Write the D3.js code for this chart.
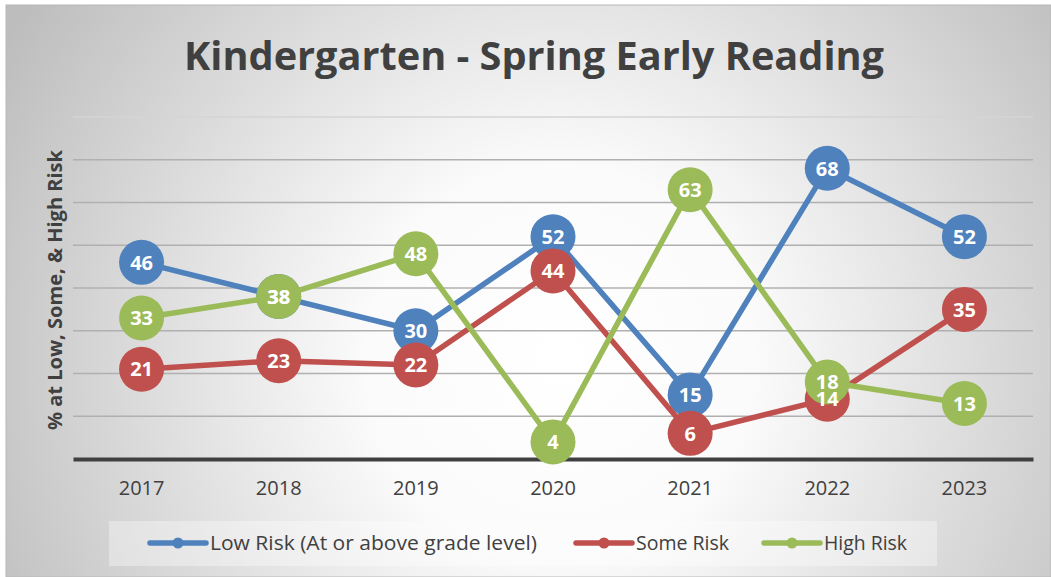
<!DOCTYPE html>
<html>
<head>
<meta charset="utf-8">
<script src="https://cdn.jsdelivr.net/npm/d3@7"></script>
<style>
  body { margin: 0; background: #fff; }
  text { font-family: "Open Sans", "Noto Sans", sans-serif; }
</style>
</head>
<body>
<script>
//chart values
var years = ["2017", "2018", "2019", "2020", "2021", "2022", "2023"];
var lowRisk = [46, 38, 30, 52, 15, 68, 52];
var someRisk = [21, 23, 22, 44, 6, 14, 35];
var highRisk = [33, 38, 48, 4, 63, 18, 13];
var seriesNames = ["Low Risk (At or above grade level)", "Some Risk", "High Risk"];
var yTicks = [0, 10, 20, 30, 40, 50, 60, 70, 80];

window.onload = function(){
  var w = 1051, h = 577;
  var colors = ["#4f81bd", "#c0504d", "#9bbb59"];
  var textColor = "#404040";

  var svg = d3.select("body")
      .append("svg")
      .attr("width", w)
      .attr("height", h);

  //radial background like the office chart area
  var grad = svg.append("defs").append("radialGradient")
      .attr("id", "bg")
      .attr("gradientUnits", "userSpaceOnUse")
      .attr("cx", 560).attr("cy", 360).attr("r", 640);
  grad.append("stop").attr("offset", "0%").attr("stop-color", "#ffffff");
  grad.append("stop").attr("offset", "30%").attr("stop-color", "#fbfbfb");
  grad.append("stop").attr("offset", "100%").attr("stop-color", "#bdbdbd");

  svg.append("rect")
      .attr("x", 6).attr("y", 5)
      .attr("width", w - 6).attr("height", h - 5)
      .style("fill", "url(#bg)")
      .style("stroke", "#b8b8b8")
      .style("stroke-width", 1);

  //scales
  var x = d3.scaleBand()
      .domain(years)
      .range([73, 1033])
      .padding(0);

  var y = d3.scaleLinear()
      .domain([0, 80])
      .range([459, 117]);

  //horizontal gridlines (top one is faint)
  svg.append("g")
      .selectAll("line")
      .data(yTicks.filter(function(d){ return d > 0; }))
      .enter()
      .append("line")
      .attr("x1", 73).attr("x2", 1033)
      .attr("y1", function(d){ return y(d); })
      .attr("y2", function(d){ return y(d); })
      .style("stroke", function(d){ return d === 80 ? "#d4d4d4" : "#b0b0b0"; })
      .style("stroke-width", 1.3);

  //x axis (thick dark baseline, no ticks)
  var xAxis = d3.axisBottom(x).tickSize(0).tickPadding(22);
  var axis = svg.append("g")
      .attr("transform", "translate(0," + y(0) + ")")
      .call(xAxis);
  axis.select(".domain")
      .style("stroke", textColor)
      .style("stroke-width", 4);
  axis.selectAll("text")
      .style("font-size", "20px")
      .style("fill", textColor)
      .style("font-family", "'Open Sans', sans-serif");

  //title
  svg.append("text")
      .attr("x", 534)
      .attr("y", 70)
      .attr("text-anchor", "middle")
      .attr("textLength", 700)
      .attr("lengthAdjust", "spacingAndGlyphs")
      .style("font-size", "40px")
      .style("font-weight", "bold")
      .style("fill", textColor)
      .text("Kindergarten - Spring Early Reading");

  //y axis title
  svg.append("text")
      .attr("transform", "translate(62,290) rotate(-90)")
      .attr("text-anchor", "middle")
      .attr("textLength", 280)
      .attr("lengthAdjust", "spacingAndGlyphs")
      .style("font-size", "19px")
      .style("font-weight", "bold")
      .style("fill", textColor)
      .text("% at Low, Some, & High Risk");

  var series = [lowRisk, someRisk, highRisk];
  var cx = function(d, i){ return x(years[i]) + x.bandwidth() / 2; };

  var line = d3.line()
      .x(function(d, i){ return cx(d, i); })
      .y(function(d){ return y(d); });

  //each series: line then markers
  series.forEach(function(vals, s){
    var g = svg.append("g");
    g.append("path")
        .datum(vals)
        .attr("d", line)
        .style("fill", "none")
        .style("stroke", colors[s])
        .style("stroke-width", 5.5)
        .style("stroke-linejoin", "round");
    g.selectAll("circle")
        .data(vals)
        .enter()
        .append("circle")
        .attr("cx", cx)
        .attr("cy", function(d){ return y(d); })
        .attr("r", 22.5)
        .style("fill", colors[s]);
  });

  //data labels on top of everything
  series.forEach(function(vals){
    svg.append("g")
        .selectAll("text")
        .data(vals)
        .enter()
        .append("text")
        .attr("x", cx)
        .attr("y", function(d){ return y(d); })
        .attr("dy", "0.36em")
        .attr("text-anchor", "middle")
        .style("font-size", "20px")
        .style("font-weight", "bold")
        .style("fill", "#ffffff")
        .text(function(d){ return d; });
  });

  //legend
  svg.append("rect")
      .attr("x", 109).attr("y", 521)
      .attr("width", 828).attr("height", 45)
      .style("fill", "#ffffff")
      .style("fill-opacity", 0.35);

  var legendX = [150, 576, 764];
  var legendLen = [327, 93, 83]; //text widths as measured on the picture
  var legend = svg.selectAll(".legend")
      .data(seriesNames)
      .enter()
      .append("g")
      .attr("class", "legend")
      .attr("transform", function(d, i){ return "translate(" + legendX[i] + ",543)"; });
  legend.append("line")
      .attr("x1", 0).attr("x2", 56)
      .style("stroke", function(d, i){ return colors[i]; })
      .style("stroke-width", 5.5)
      .style("stroke-linecap", "round");
  legend.append("circle")
      .attr("cx", 28)
      .attr("r", 5.5)
      .style("fill", function(d, i){ return colors[i]; });
  legend.append("text")
      .attr("x", 60)
      .attr("dy", "0.35em")
      .attr("textLength", function(d, i){ return legendLen[i]; })
      .attr("lengthAdjust", "spacingAndGlyphs")
      .style("font-size", "20px")
      .style("fill", textColor)
      .text(function(d){ return d; });
};
</script>
</body>
</html>
